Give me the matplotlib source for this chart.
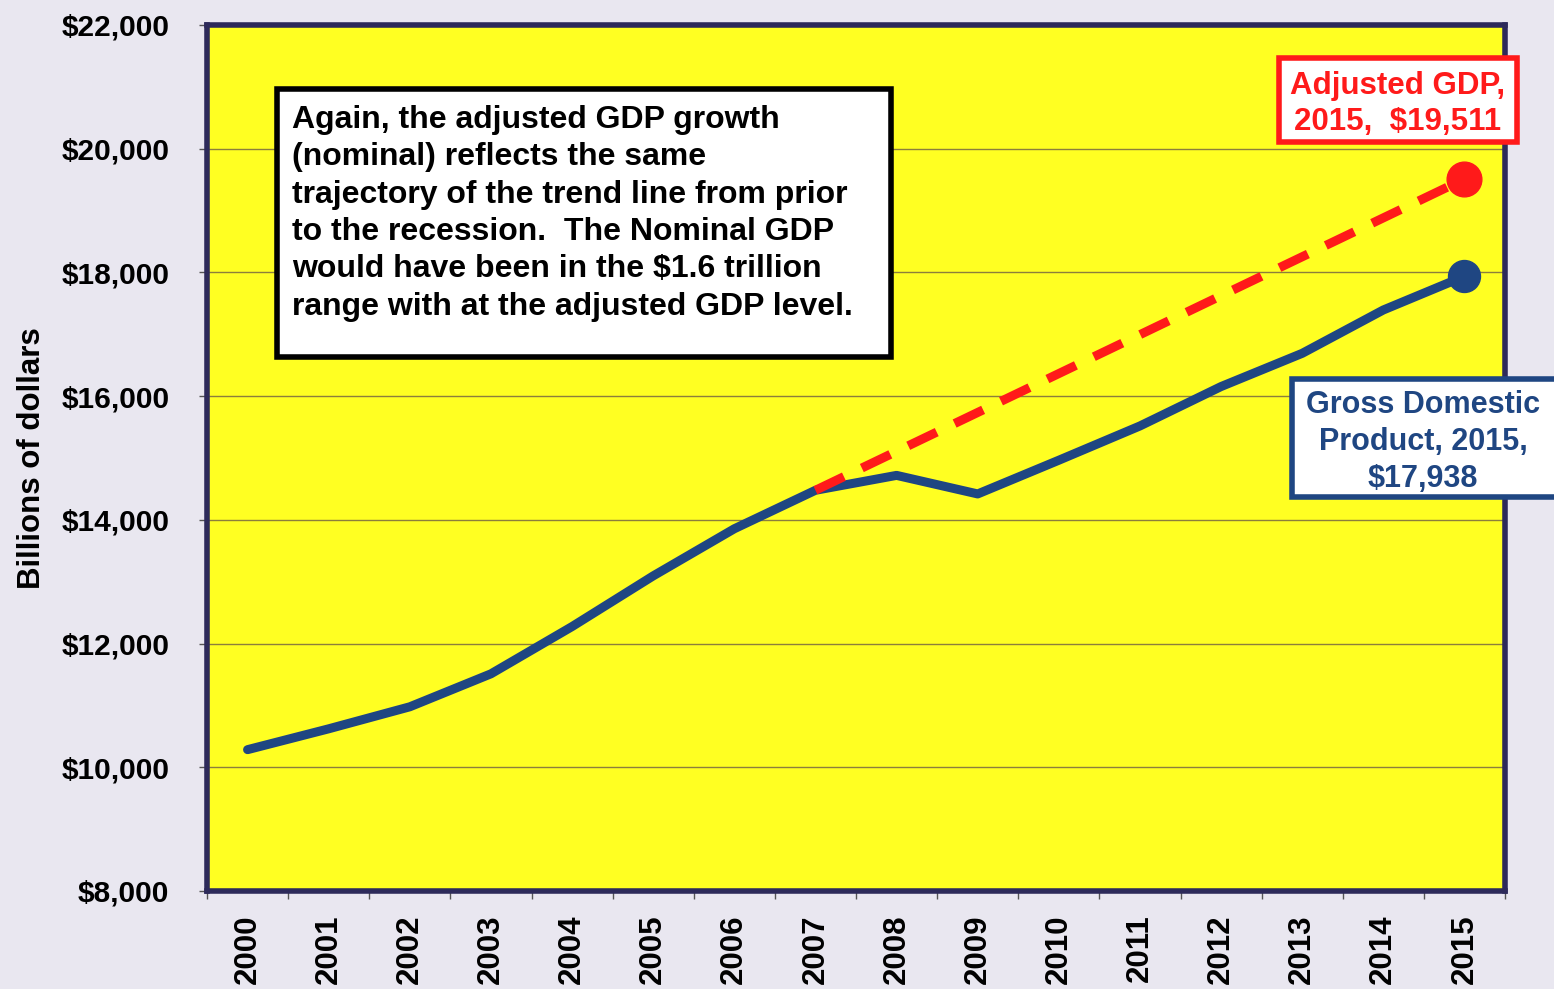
import matplotlib.pyplot as plt
from matplotlib.patches import Rectangle
from matplotlib.ticker import FuncFormatter

plt.rcParams['font.family'] = ['Liberation Sans', 'DejaVu Sans']
plt.rcParams['font.weight'] = 'bold'

years = [str(y) for y in range(2000, 2016)]
gdp = [10285, 10622, 10978, 11511, 12275, 13094, 13856, 14478,
       14719, 14419, 14964, 15518, 16155, 16692, 17393, 17938]
adj_years = years[7:]
adj_gdp = [14478, 15107, 15736, 16365, 16994, 17624, 18253, 18882, 19511]

note = ("Again, the adjusted GDP growth\n"
        "(nominal) reflects the same\n"
        "trajectory of the trend line from prior\n"
        "to the recession.  The Nominal GDP\n"
        "would have been in the $1.6 trillion\n"
        "range with at the adjusted GDP level.")
adj_label = "Adjusted GDP,\n2015,  $19,511"
gdp_label = "Gross Domestic\nProduct, 2015,\n$17,938"

bg = '#E9E7F0'
navy = '#1F4682'
red = '#FF1A1A'

W, H = 1554, 989
fig = plt.figure(figsize=(W / 100, H / 100), dpi=100, facecolor=bg)
ax = fig.add_axes([207 / W, 1 - 891 / H, (1505 - 207) / W, (891 - 25) / H])
ax.set_facecolor('#FFFF22')

x = list(range(len(years)))
xa = [years.index(y) for y in adj_years]
ax.plot(x, gdp, color=navy, lw=6.5, solid_capstyle='round', zorder=3)
ax.plot(xa, adj_gdp, color=red, lw=6.5, ls=(0, (3.5, 2.2)), zorder=4)
ax.plot(xa[-1], adj_gdp[-1], 'o', color=red, ms=25, zorder=5)
ax.plot(x[-1], gdp[-1], 'o', color=navy, ms=23, zorder=5)

ax.set_xlim(-0.5, len(years) - 0.5)
ax.set_ylim(8000, 22000)
ax.set_yticks(range(8000, 22001, 2000))
ax.yaxis.set_major_formatter(FuncFormatter(lambda v, p: f"${v:,.0f}"))
ax.set_xticks(x)
ax.set_xticklabels(years, rotation=90, fontsize=22.5)
ax.set_xticks([i - 0.5 for i in range(len(years) + 1)], minor=True)
ax.tick_params(axis='x', which='major', length=0, pad=17)
ax.tick_params(axis='x', which='minor', length=6, width=1, color='#555555')
ax.tick_params(axis='y', length=6, width=1, color='#555555', labelsize=21.5, pad=21)
ax.grid(axis='y', color='#8C7E3C', lw=1)
ax.set_axisbelow(True)
for s in ax.spines.values():
    s.set_color('#2D2A5A')
    s.set_linewidth(4)
ax.set_ylabel('Billions of dollars', fontsize=22.5, fontweight='bold')
ax.yaxis.set_label_coords(-0.1233, 0.5)


def px_box(x0, y0, x1, y1, ec):
    # rectangle given in pixel coordinates from the top-left corner
    r = Rectangle((x0 / W, 1 - y1 / H), (x1 - x0) / W, (y1 - y0) / H,
                  transform=fig.transFigure, fc='white', ec=ec, lw=4, zorder=6)
    fig.patches.append(r)


px_box(277, 89, 891, 357, 'black')
fig.text(292 / W, 1 - 105 / H, note, fontsize=23, linespacing=1.32,
         va='top', ha='left', zorder=7)

px_box(1279, 58, 1517, 142, red)
fig.text(1398 / W, 1 - 104 / H, adj_label, color=red, fontsize=22.5,
         ha='center', va='center', linespacing=1.27, zorder=7)

px_box(1292, 379, 1560, 497, navy)
fig.text(1423 / W, 1 - 442 / H, gdp_label, color=navy, fontsize=22,
         ha='center', va='center', linespacing=1.3, zorder=7)

fig.savefig('out.png', dpi=100, facecolor=bg)
